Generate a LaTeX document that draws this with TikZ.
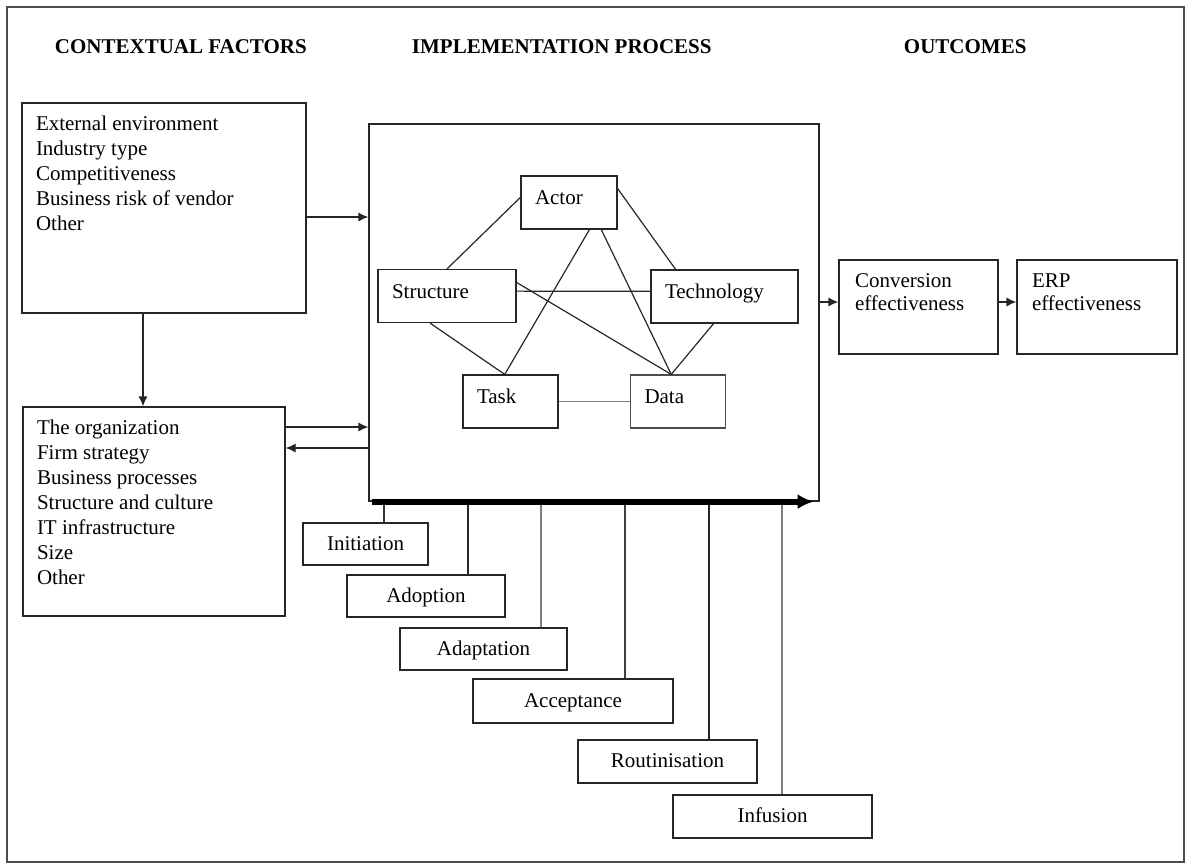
\documentclass[tikz,border=0pt]{standalone}
\usepackage{fontspec}
\setmainfont{Liberation Serif}
\usetikzlibrary{arrows.meta, positioning, calc}

\colorlet{paleline}{black!50}

\begin{document}
\begin{tikzpicture}[x=1pt, y=-1pt, line width=1.2pt, >={Latex[length=10pt, width=9pt]},
    font=\fontsize{21}{25}\selectfont, draw=black!85,
    box/.style={draw=black!85, rectangle, inner sep=0pt},
    heading/.style={anchor=base west, font=\fontsize{21}{25}\selectfont\bfseries},
    listing/.style={anchor=north west, align=left, inner sep=0pt},
    part/.style={box, inner xsep=14pt, align=left, text height=14pt, text depth=10pt, minimum height=53pt},
    phase/.style={box, minimum height=42pt, text height=15pt, text depth=3pt},
    outcome/.style={box, minimum width=160pt, minimum height=94pt}]

\useasboundingbox (0,0) rectangle (1192,863);
\draw[black!70] (7,7) rectangle (1184,862);

% headings
\node[heading] (hctx) at (51,53) {CONTEXTUAL FACTORS};
\node[heading] (himpl) at (408,53) {IMPLEMENTATION PROCESS};
\node[heading] (hout) at (900,53) {OUTCOMES};

% contextual factors
\node[box, minimum width=284pt, minimum height=210pt,
  label={[listing, xshift=14pt, yshift=-12.7pt]north west:{External environment\\Industry type\\Competitiveness\\Business risk of vendor\\Other}}] (ctx) at (164,208) {};
\node[box, minimum width=262pt, minimum height=209pt,
  label={[listing, xshift=14pt, yshift=-12.7pt]north west:{The organization\\Firm strategy\\Business processes\\Structure and culture\\IT infrastructure\\Size\\Other}}] (org) at (154,511.5) {};

% implementation process
\node[box, minimum width=450pt, minimum height=377pt] (impl) at (594,312.5) {};
\node[part, text width=68pt] (actor) at (569,202.5) {Actor};
\node[part, text width=110pt] (structure) at (447,296) {Structure};
\node[part, text width=119pt] (technology) at (724.5,296.5) {Technology};
\node[part, text width=67pt] (task) at (510.5,401.5) {Task};
\node[part, text width=67pt, draw=black!70] (data) at (678,401.5) {Data};

\path[draw=black!85] (actor.174) edge (structure.north)
      (actor.16) edge (technology.151)
      (actor.-53) edge (task.102)
      (actor.-40.5) edge (data.104)
    (structure.11) edge (data.104)
      (structure.4) edge (technology.176)
      (structure.-122) edge (task.102)
    (technology.-112) edge (data.104);
\draw[paleline, line width=1.6pt] (task) -- (data);

% phases
\node[phase, minimum width=125pt] (init) at (365.5,544) {Initiation};
\node[phase, minimum width=158pt] (adopt) at (426,596) {Adoption};
\node[phase, minimum width=167pt] (adapt) at (483.5,649) {Adaptation};
\node[phase, minimum width=200pt, minimum height=44pt] (accept) at (573,701) {Acceptance};
\node[phase, minimum width=179pt, minimum height=43pt] (routine) at (667.5,761.5) {Routinisation};
\node[phase, minimum width=199pt, minimum height=43pt] (infusion) at (772.5,816.5) {Infusion};

\coordinate (initup) at ([xshift=18.5pt]init.north);
\coordinate (adoptup) at ([xshift=42pt]adopt.north);
\coordinate (adaptup) at ([xshift=57.5pt]adapt.north);
\coordinate (acceptup) at ([xshift=52pt]accept.north);
\coordinate (routineup) at ([xshift=41.5pt]routine.north);
\coordinate (infusionup) at ([xshift=9.5pt]infusion.north);
\draw[black!80] (initup) -- (initup |- impl.south);
\draw (adoptup) -- (adoptup |- impl.south);
\draw[paleline, line width=1.5pt] (adaptup) -- (adaptup |- impl.south);
\draw[black!75] (acceptup) -- (acceptup |- impl.south);
\draw (routineup) -- (routineup |- impl.south);
\draw[paleline, line width=1.5pt] (infusionup) -- (infusionup |- impl.south);

\draw[black, line width=6pt, -{Latex[length=16pt, width=15pt]}] ([xshift=4pt]impl.south west) -- ([xshift=-6pt]impl.south east);

% outcomes
\node[outcome, minimum width=159pt,
  label={[listing, xshift=16pt, yshift=-14pt, font=\fontsize{21}{23}\selectfont]north west:{Conversion\\effectiveness}}] (conv) at (918.5,307) {};
\node[outcome,
  label={[listing, xshift=15pt, yshift=-14pt, font=\fontsize{21}{23}\selectfont]north west:{ERP\\effectiveness}}] (erp) at (1097,307) {};

% connectors
\coordinate (ctxout) at ([yshift=-9pt]ctx.east);
\draw[->] (ctxout) -- (ctxout -| impl.west);
\coordinate (ctxdown) at ([xshift=-21pt]ctx.south);
\draw[->] (ctxdown) -- (ctxdown |- org.north);
\coordinate (orgout) at ([yshift=84.5pt]org.east);
\draw[->] (orgout) -- (orgout -| impl.west);
\coordinate (orgin) at ([yshift=63.5pt]org.east);
\draw[->] (orgin -| impl.west) -- (orgin);
\coordinate (convin) at ([yshift=5pt]conv.west);
\draw[->] (convin -| impl.east) -- (convin);
\draw[->] (convin -| conv.east) -- (convin -| erp.west);
\end{tikzpicture}
\end{document}
